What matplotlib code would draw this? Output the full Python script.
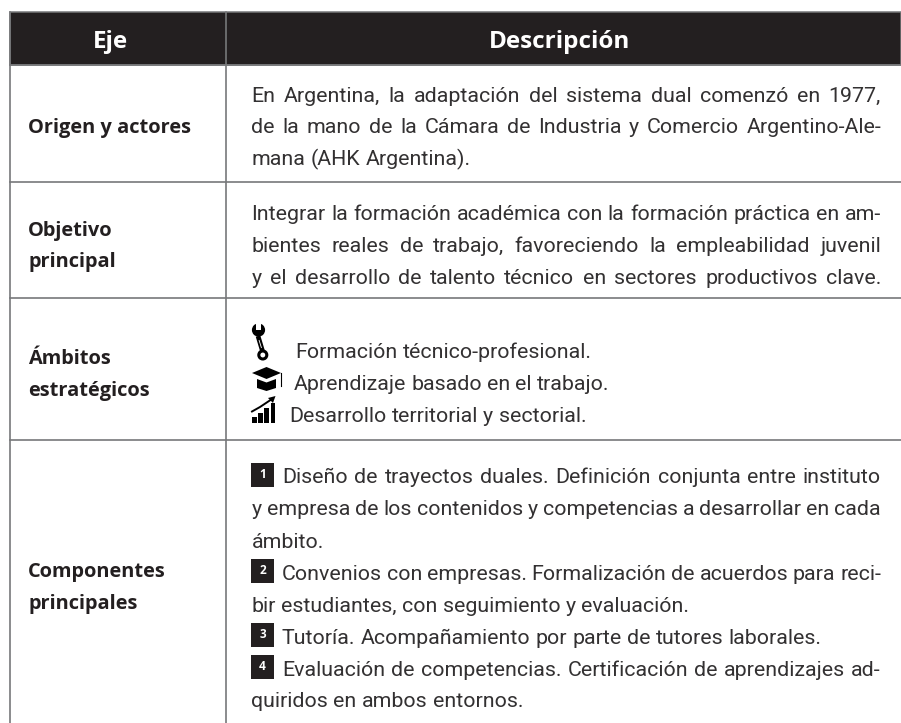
import matplotlib
matplotlib.use("Agg")
import matplotlib.pyplot as plt
from matplotlib.patches import Rectangle, Polygon, Circle

W, H = 901, 723
DARK = "#231f20"
BODY = "#333132"
LINE = "#77787a"
FONT = "Roboto"
BOLD_FONT = "Open Sans"

col_x = [9.5, 225.5]
row_y = [11.5, 64.5, 182, 298, 440]

headers = ["Eje", "Descripción"]
row_labels = [
    (["Origen y actores"], [133]),
    (["Objetivo", "principal"], [236, 267]),
    (["Ámbitos", "estratégicos"], [364.5, 396]),
    (["Componentes", "principales"], [577, 609]),
]

# (text, x start, baseline, justify?)
body_lines = [
    ("En Argentina, la adaptación del sistema dual comenzó en 1977,", 251.5, 101.5, True),
    ("de la mano de la Cámara de Industria y Comercio Argentino-Ale-", 251.5, 133, True),
    ("mana (AHK Argentina).", 251.5, 165, False),
    ("Integrar la formación académica con la formación práctica en am-", 251.5, 220.5, True),
    ("bientes reales de trabajo, favoreciendo la empleabilidad juvenil", 251.5, 252, True),
    ("y el desarrollo de talento técnico en sectores productivos clave.", 251.5, 283.5, True),
    ("Formación técnico-profesional.", 295, 358, False),
    ("Aprendizaje basado en el trabajo.", 293.5, 390, False),
    ("Desarrollo territorial y sectorial.", 289, 421.5, False),
    ("Diseño de trayectos duales. Definición conjunta entre instituto", 282, 483, True),
    ("y empresa de los contenidos y competencias a desarrollar en cada", 251.5, 515, True),
    ("ámbito.", 251.5, 547.5, False),
    ("Convenios con empresas. Formalización de acuerdos para reci-", 282, 579.5, True),
    ("bir estudiantes, con seguimiento y evaluación.", 251.5, 611.5, False),
    ("Tutoría. Acompañamiento por parte de tutores laborales.", 282, 643.5, False),
    ("Evaluación de competencias. Certificación de aprendizajes ad-", 282, 675.5, True),
    ("quiridos en ambos entornos.", 251.5, 707, False),
]
badges = [("1", 463), ("2", 559), ("3", 623), ("4", 655)]

fig = plt.figure(figsize=(W / 100, H / 100), dpi=100)
ax = fig.add_axes([0, 0, 1, 1])
ax.set_xlim(0, W)
ax.set_ylim(H, 0)
ax.axis("off")
renderer = fig.canvas.get_renderer()
BODY_SIZE = 15.4


def word_width(s):
    t = ax.text(0, 0, s, fontsize=BODY_SIZE, family=FONT)
    w = t.get_window_extent(renderer).width
    t.remove()
    return w


def fit_line(text, x0, y, justify, x1=881):
    # one text per word, so the line can be spread out to the right margin
    words = text.split(" ")
    widths = [word_width(w) for w in words]
    gap = word_width("n n") - word_width("nn")
    if justify:
        gap = (x1 - x0 - sum(widths)) / (len(words) - 1)
    x = x0
    for w, ww in zip(words, widths):
        ax.text(x, y, w, fontsize=BODY_SIZE, family=FONT, color=BODY, va="baseline", ha="left")
        x += ww + gap


# header band
ax.add_patch(Rectangle((col_x[0], row_y[0]), W - col_x[0], row_y[1] - row_y[0],
                       fc=DARK, ec=LINE, lw=1.1, zorder=1))

# grid lines
for y in row_y[1:]:
    ax.plot([col_x[0], W], [y, y], color=LINE, lw=1.2, zorder=2)
for x in col_x:
    ax.plot([x, x], [row_y[0], H], color=LINE, lw=1.2, zorder=2)

ax.text(110.5, 48, headers[0], color="white", fontsize=17.5, family=BOLD_FONT, weight="bold", ha="center", va="baseline", zorder=3)
ax.text(559.5, 48, headers[1], color="white", fontsize=17.5, family=BOLD_FONT, weight="bold", ha="center", va="baseline", zorder=3)

for labels, ys in row_labels:
    for s, y in zip(labels, ys):
        ax.text(28, y, s, color=DARK, fontsize=14.4, family=BOLD_FONT, weight="bold", ha="left", va="baseline")

for text, x0, y, justify in body_lines:
    fit_line(text, x0, y, justify)

for n, y in badges:
    ax.add_patch(Rectangle((251, y), 23, 24, fc=DARK, ec="none"))
    ax.text(262.5, y + 12, n, color="white", fontsize=8.5, family=BOLD_FONT, weight="bold", ha="center", va="center")

# wrench icon
ax.plot([258, 262.5], [336, 351], color="black", lw=3.4, solid_capstyle="butt")
ax.plot([259, 261.5], [340, 348], color="white", lw=0.6, solid_capstyle="butt")
ax.add_patch(Circle((258.5, 330), 6.6, fc="black", ec="none"))
ax.add_patch(Polygon([[256, 322], [261, 322], [261, 330], [256, 330]], fc="white", ec="none"))
ax.add_patch(Circle((262.8, 355), 4, fc="white", ec="black", lw=2.2))

# graduation cap icon
ax.add_patch(Polygon([[252, 373], [266.5, 367], [281, 373], [266.5, 379]], fc="black", ec="none"))
ax.add_patch(Polygon([[257, 379], [266.5, 382.5], [276, 379], [276, 388], [266.5, 391], [257, 388]], fc="black", ec="none"))
ax.plot([280.5, 280.5], [373, 386], color="black", lw=0.8)

# bars and arrow icon
for bx, top in zip([252, 258.2, 264.4, 270.8], [416.5, 412.5, 408, 403]):
    ax.add_patch(Rectangle((bx, top), 4.6, 423 - top, fc="black", ec="none"))
ax.plot([252, 260, 266, 272], [411.5, 407, 403, 399], color="black", lw=1.4)
ax.add_patch(Polygon([[275.5, 396], [268, 398], [273, 403]], fc="black", ec="none"))

fig.savefig("out.png", dpi=100)
